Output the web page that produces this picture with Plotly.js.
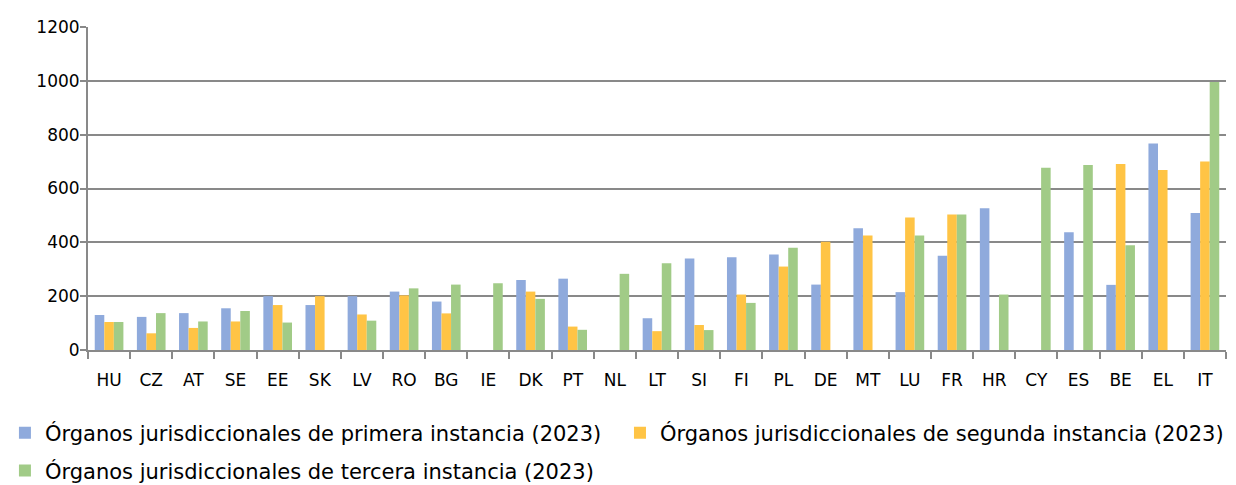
<!DOCTYPE html>
<html>
<head>
<meta charset="utf-8">
<script src="https://cdn.plot.ly/plotly-3.0.1.min.js"></script>
<style>
html,body{margin:0;padding:0;background:#fff;}
#chart{width:1236px;height:485px;}
</style>
</head>
<body>
<div id="chart"></div>
<script>
const categories = ["HU","CZ","AT","SE","EE","SK","LV","RO","BG","IE","DK","PT","NL","LT","SI","FI","PL","DE","MT","LU","FR","HR","CY","ES","BE","EL","IT"];
const primera = [130,123,137,155,200,167,200,217,180,null,260,265,null,118,340,345,355,243,452,215,350,527,null,437,242,767,509];
const segunda = [104,62,82,106,167,200,132,203,136,null,217,87,null,70,93,206,310,402,425,492,503,null,null,null,691,669,700];
const tercera = [104,137,106,145,102,null,109,229,243,248,190,75,283,322,74,175,380,null,null,425,503,206,677,687,389,null,996];
const seriesNames = [
  "Órganos jurisdiccionales de primera instancia (2023)",
  "Órganos jurisdiccionales de segunda instancia (2023)",
  "Órganos jurisdiccionales de tercera instancia (2023)"
];
const colors = ["#8FAADC","#FFC445","#A1CB87"];
const legendIds = ["legend","legend3","legend2"];
const yTicks = [0,200,400,600,800,1000,1200];

const data = [primera, segunda, tercera].map((vals, i) => ({
  type: "bar",
  name: seriesNames[i],
  x: categories,
  y: vals,
  legend: legendIds[i],
  marker: {color: colors[i], line: {width: 0}},
  hoverinfo: "x+y"
}));

const legendFont = {family: "DejaVu Sans", size: 21, color: "#000"};
function legendBox(x, y) {
  return {
    orientation: "h",
    xref: "container", yref: "container",
    x: x, xanchor: "left",
    y: y, yanchor: "middle",
    font: legendFont,
    itemwidth: 30
  };
}
const layout = {
  width: 1236, height: 485,
  margin: {l: 88, r: 10, t: 27, b: 135, autoexpand: false},
  paper_bgcolor: "#fff", plot_bgcolor: "#fff",
  barmode: "group", bargap: 0.32, bargroupgap: 0,
  font: {family: "DejaVu Sans", color: "#000", size: 17},
  xaxis: {
    type: "category",
    showgrid: false,
    showline: true, linecolor: "#898989", linewidth: 2,
    ticks: "outside", tickson: "boundaries", ticklen: 7, tickwidth: 2, tickcolor: "#898989",
    tickfont: {family: "DejaVu Sans", size: 17, color: "#000"},
    ticklabelstandoff: 14,
    automargin: false,
    zeroline: false
  },
  yaxis: {
    range: [0, 1200],
    tickvals: yTicks,
    showgrid: true, gridcolor: "#898989", gridwidth: 2,
    showline: true, linecolor: "#898989", linewidth: 2,
    ticks: "outside", ticklen: 6, tickwidth: 2, tickcolor: "#898989",
    tickfont: {family: "DejaVu Sans", size: 17, color: "#000"},
    ticklabelstandoff: -3,
    automargin: false,
    zeroline: false
  },
  legend: legendBox(0.004, 0.107),
  legend3: legendBox(0.5016, 0.107),
  legend2: legendBox(0.004, 0.029),
  showlegend: true
};

Plotly.newPlot("chart", data, layout, {displayModeBar: false, staticPlot: true});
</script>
</body>
</html>
